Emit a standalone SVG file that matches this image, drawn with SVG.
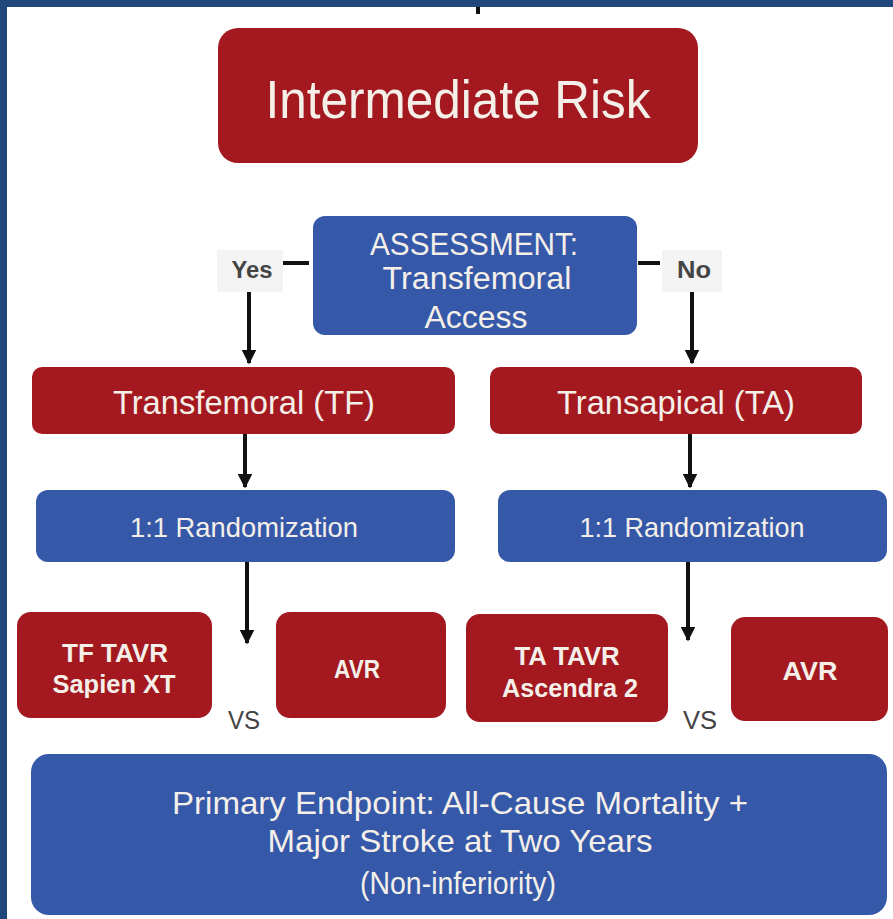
<svg xmlns="http://www.w3.org/2000/svg" width="893" height="919" viewBox="0 0 893 919">
<defs>
<style>
.red{fill:#a3191f}
.blue{fill:#3558a8}
.t{font-family:"Liberation Sans",Arial,sans-serif;fill:#f4efe9;text-anchor:middle}
.d{font-family:"Liberation Sans",Arial,sans-serif;fill:#444444;text-anchor:middle}
.ln{stroke:#111;stroke-width:4;fill:none}
.lbl{fill:#f3f3f3}
</style>
<marker id="ah" viewBox="0 0 10 10" refX="9" refY="5" markerWidth="4.2" markerHeight="3.6" orient="auto" markerUnits="strokeWidth">
<path d="M0,0 L10,5 L0,10 z" fill="#111"/>
</marker>
</defs>
<rect x="0" y="0" width="893" height="919" fill="#ffffff"/>
<rect x="0" y="0" width="893" height="7" fill="#1f477c"/>
<rect x="0" y="0" width="7" height="919" fill="#1f477c"/>

<g id="connectors">
<line class="ln" x1="478" y1="7" x2="478" y2="14"/>
<line class="ln" x1="283" y1="263" x2="309" y2="263"/>
<line class="ln" x1="638" y1="263" x2="660" y2="263"/>
<line class="ln" x1="249" y1="290" x2="249" y2="363" marker-end="url(#ah)"/>
<line class="ln" x1="692" y1="290" x2="692" y2="363" marker-end="url(#ah)"/>
<line class="ln" x1="245" y1="434" x2="245" y2="487" marker-end="url(#ah)"/>
<line class="ln" x1="690" y1="434" x2="690" y2="487" marker-end="url(#ah)"/>
<line class="ln" x1="247" y1="562" x2="247" y2="643" marker-end="url(#ah)"/>
<line class="ln" x1="688" y1="562" x2="688" y2="640" marker-end="url(#ah)"/>
</g>

<g id="intermediate-risk">
<rect class="red" x="218" y="28" width="480" height="135" rx="20"/>
<text class="t" x="458" y="118" font-size="53" textLength="385" lengthAdjust="spacingAndGlyphs">Intermediate Risk</text>
</g>

<g id="yes-label">
<rect class="lbl" x="217" y="250" width="66" height="42"/>
<text class="d" x="252" y="278" font-size="23" font-weight="bold" textLength="41" lengthAdjust="spacingAndGlyphs">Yes</text>
</g>

<g id="no-label">
<rect class="lbl" x="662" y="250" width="60" height="42"/>
<text class="d" x="694" y="278" font-size="23" font-weight="bold" textLength="34" lengthAdjust="spacingAndGlyphs">No</text>
</g>

<g id="assessment">
<rect class="blue" x="313" y="216" width="324" height="119" rx="12"/>
<text class="t" x="474" y="255" font-size="31" textLength="208" lengthAdjust="spacingAndGlyphs">ASSESSMENT:</text>
<text class="t" x="477" y="289" font-size="31" textLength="189" lengthAdjust="spacingAndGlyphs">Transfemoral</text>
<text class="t" x="476" y="328" font-size="31" textLength="103" lengthAdjust="spacingAndGlyphs">Access</text>
</g>

<g id="transfemoral">
<rect class="red" x="32" y="367" width="423" height="67" rx="10"/>
<text class="t" x="244" y="414" font-size="33" textLength="262" lengthAdjust="spacingAndGlyphs">Transfemoral (TF)</text>
</g>

<g id="transapical">
<rect class="red" x="490" y="367" width="372" height="67" rx="10"/>
<text class="t" x="676" y="414" font-size="33" textLength="238" lengthAdjust="spacingAndGlyphs">Transapical (TA)</text>
</g>

<g id="rand-left">
<rect class="blue" x="36" y="490" width="419" height="72" rx="12"/>
<text class="t" x="244" y="537" font-size="28" textLength="228" lengthAdjust="spacingAndGlyphs">1:1 Randomization</text>
</g>

<g id="rand-right">
<rect class="blue" x="498" y="490" width="389" height="72" rx="12"/>
<text class="t" x="692" y="537" font-size="28" textLength="225" lengthAdjust="spacingAndGlyphs">1:1 Randomization</text>
</g>

<g id="tf-tavr">
<rect class="red" x="17" y="612" width="195" height="106" rx="14"/>
<text class="t" x="115" y="662" font-size="26" font-weight="bold" textLength="106" lengthAdjust="spacingAndGlyphs">TF TAVR</text>
<text class="t" x="114" y="693" font-size="26" font-weight="bold" textLength="123" lengthAdjust="spacingAndGlyphs">Sapien XT</text>
</g>

<g id="avr-left">
<rect class="red" x="276" y="612" width="170" height="106" rx="14"/>
<text class="t" x="357" y="678" font-size="25" font-weight="bold" textLength="46" lengthAdjust="spacingAndGlyphs">AVR</text>
</g>

<g id="vs-left">
<text class="d" x="244" y="729" font-size="26" textLength="32" lengthAdjust="spacingAndGlyphs">VS</text>
</g>

<g id="ta-tavr">
<rect class="red" x="466" y="614" width="202" height="108" rx="14"/>
<text class="t" x="567" y="665" font-size="26" font-weight="bold" textLength="105" lengthAdjust="spacingAndGlyphs">TA TAVR</text>
<text class="t" x="570" y="697" font-size="26" font-weight="bold" textLength="136" lengthAdjust="spacingAndGlyphs">Ascendra 2</text>
</g>

<g id="avr-right">
<rect class="red" x="731" y="617" width="157" height="104" rx="14"/>
<text class="t" x="810" y="680" font-size="25" font-weight="bold" textLength="55" lengthAdjust="spacingAndGlyphs">AVR</text>
</g>

<g id="vs-right">
<text class="d" x="700" y="729" font-size="26" textLength="34" lengthAdjust="spacingAndGlyphs">VS</text>
</g>

<g id="primary-endpoint">
<rect class="blue" x="31" y="754" width="856" height="161" rx="18"/>
<text class="t" x="460" y="814" font-size="32" textLength="576" lengthAdjust="spacingAndGlyphs">Primary Endpoint: All-Cause Mortality +</text>
<text class="t" x="460" y="852" font-size="32" textLength="385" lengthAdjust="spacingAndGlyphs">Major Stroke at Two Years</text>
<text class="t" x="458" y="894" font-size="32" textLength="196" lengthAdjust="spacingAndGlyphs">(Non-inferiority)</text>
</g>
</svg>
